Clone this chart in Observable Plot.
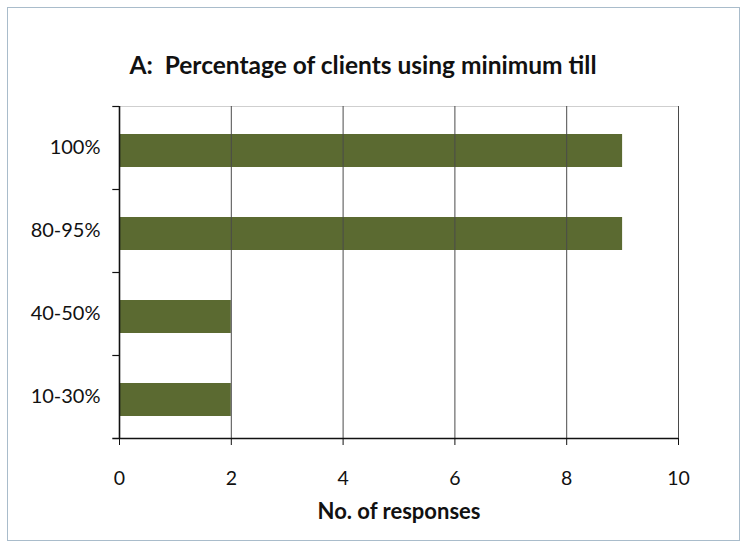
<!DOCTYPE html>
<html>
<head>
<meta charset="utf-8">
<script src="https://cdn.jsdelivr.net/npm/d3@7"></script>
<script src="https://cdn.jsdelivr.net/npm/@observablehq/plot@0.6"></script>
<style>
  html, body { margin: 0; padding: 0; background: #fff; }
  #wrap { position: relative; width: 743px; height: 545px; overflow: hidden; }
  #border { position: absolute; left: 7px; top: 7px; width: 731px; height: 532px; border: 1.5px solid #a9bccb; box-sizing: content-box; }
  #chart { position: absolute; left: 0; top: 0; }
</style>
</head>
<body>
<div id="wrap">
  <div id="border"></div>
  <div id="chart"></div>
</div>
<script>
const titleText = "A:  Percentage of clients using minimum till";
const xLabel = "No. of responses";
const categories = ["100%", "80-95%", "40-50%", "10-30%"];
const responses = [9, 9, 2, 2];
const xTicks = [0, 2, 4, 6, 8, 10];
const gridTicks = [2, 4, 6, 8, 10];

const data = categories.map((c, i) => ({category: c, value: responses[i]}));
const font = "Lato, 'Open Sans', sans-serif";
const bandHalf = 41.5;

const plot = Plot.plot({
  width: 743,
  height: 545,
  marginTop: 106,
  marginBottom: 107,
  marginLeft: 119,
  marginRight: 65,
  style: {fontFamily: font, background: "transparent", overflow: "visible"},
  x: {domain: [0, 10], ticks: xTicks},
  y: {type: "band", domain: categories, padding: 0},
  marks: [
    Plot.frame({stroke: "#cfcfcf", strokeWidth: 1}),
    Plot.barX(data, {x: "value", y: "category", fill: "#5b6a31", insetTop: 28, insetBottom: 22}),
    Plot.ruleX(gridTicks, {stroke: "#4a4a4a", strokeWidth: 1}),
    Plot.ruleX([0], {stroke: "#111", strokeWidth: 1.6}),
    Plot.ruleY(categories, {y: d => d, x1: -0.12, x2: 0, dy: -bandHalf, stroke: "#111", strokeWidth: 1.2}),
    Plot.ruleY(categories.slice(-1), {y: d => d, x1: -0.12, x2: 10, dy: bandHalf, stroke: "#111", strokeWidth: 1.6}),
    Plot.axisY({tickSize: 0, tickPadding: 19, fontSize: 20, label: null, color: "#111"}),
    Plot.axisX({ticks: xTicks, tickSize: 7, tickPadding: 26, fontSize: 19.5, label: null, color: "#111"}),
    Plot.text([titleText], {frameAnchor: "top", dy: -50, dx: -36, fontSize: 24.5, fontWeight: "bold", fill: "#111"}),
    Plot.text([xLabel], {frameAnchor: "bottom", dy: 80, dx: 0, fontSize: 22, fontWeight: "bold", fill: "#111"})
  ]
});
document.getElementById("chart").appendChild(plot);
</script>
</body>
</html>
